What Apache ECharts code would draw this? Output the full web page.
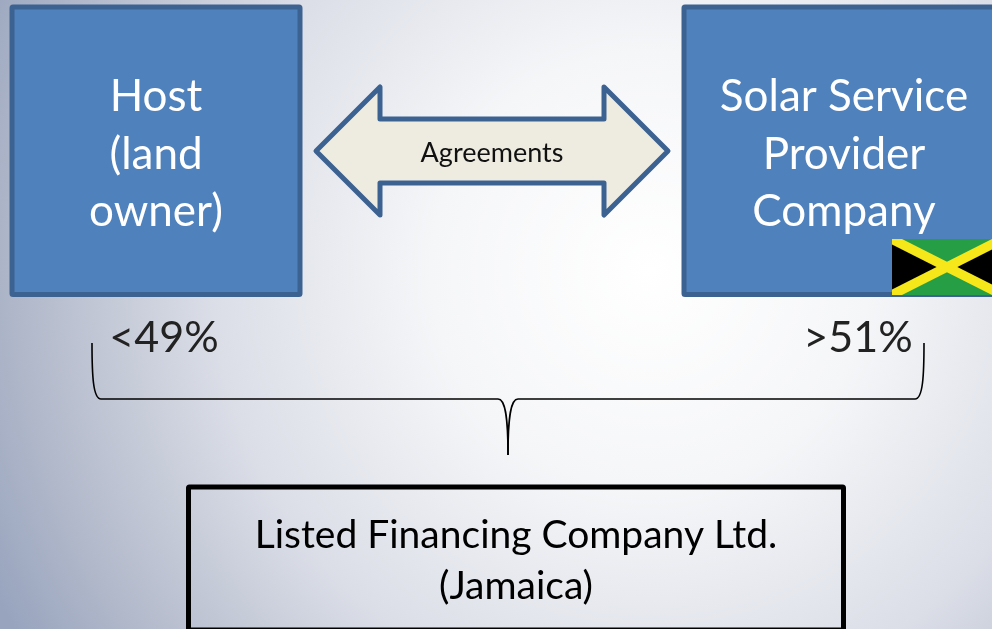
<!DOCTYPE html>
<html lang="en">

<head>
    <meta charset="UTF-8">
    <title>Solar financing structure</title>
    <style>
        html, body { margin: 0; padding: 0; }
    </style>
    <script src="https://cdn.jsdelivr.net/npm/echarts@6/dist/echarts.min.js"></script>
</head>

<body>
    <div id="main" style="width: 992px;height:629px;"></div>
    <script type="text/javascript">
        // texts of the diagram
        const hostLines = ['Host', '(land', 'owner)'];
        const providerLines = ['Solar Service', 'Provider', 'Company'];
        const financeLines = ['Listed Financing Company Ltd.', '(Jamaica)'];
        const shareLabels = ['<49%', '>51%'];
        const arrowLabel = 'Agreements';

        const boxBlue = '#4f81bd';
        const boxEdge = '#3c6291';
        const font = 'Lato, "Open Sans", sans-serif';

        function text(str, x, y, size, color, align) {
            return {
                type: 'text',
                x: x,
                y: y,
                style: {
                    text: str,
                    fill: color,
                    font: size + 'px ' + font,
                    textAlign: align || 'center',
                    textVerticalAlign: 'bottom'
                }
            };
        }

        function lines(list, x, y, step, size, color) {
            return list.map((str, i) => text(str, x, y + i * step, size, color));
        }

        function box(x, y, w, h, fill, edge) {
            return {
                type: 'rect',
                shape: { x: x, y: y, width: w, height: h, r: 1 },
                style: { fill: fill, stroke: edge, lineWidth: 5, lineJoin: 'round' }
            };
        }

        function flag() {
            const x0 = 892, y0 = 239, x1 = 1002, y1 = 295, cx = 947, cy = 267;
            const yellow = '#f5e71a';
            const poly = (pts, c) => ({ type: 'polygon', shape: { points: pts }, style: { fill: c } });
            const dx = 10, dy = 5.5; // how far the yellow band runs along each flag edge
            return {
                type: 'group',
                children: [
                    poly([[x0, y0], [x1, y0], [cx, cy]], '#259e45'),
                    poly([[x0, y1], [x1, y1], [cx, cy]], '#259e45'),
                    poly([[x0, y0], [x0, y1], [cx, cy]], '#000'),
                    poly([[x1, y0], [x1, y1], [cx, cy]], '#000'),
                    poly([[x0, y0], [x0 + dx, y0], [x1, y1 - dy], [x1, y1], [x1 - dx, y1], [x0, y0 + dy]], yellow),
                    poly([[x0, y1], [x0, y1 - dy], [x1 - dx, y0], [x1, y0], [x1, y0 + dy], [x0 + dx, y1]], yellow)
                ]
            };
        }

        // curly brace under the two percentages
        function brace() {
            const style = { fill: 'none', stroke: '#000', lineWidth: 1.6 };
            const curve = (x1, y1, cpx1, cpy1, cpx2, cpy2, x2, y2) => ({
                type: 'bezierCurve',
                shape: { x1, y1, cpx1, cpy1, cpx2, cpy2, x2, y2 },
                style: style
            });
            const flat = (x1, x2) => ({ type: 'line', shape: { x1: x1, y1: 399, x2: x2, y2: 399 }, style: style });
            return [
                curve(92, 343, 92, 375, 93, 399, 101, 399),
                flat(101, 498),
                curve(498, 399, 505, 399, 508, 415, 508, 455),
                curve(508, 455, 508, 415, 511, 399, 518, 399),
                flat(518, 915),
                curve(915, 399, 923, 399, 924, 375, 924, 343)
            ];
        }

        const myChart = echarts.init(document.getElementById('main'), null, { renderer: 'canvas' });

        myChart.setOption({
            backgroundColor: {
                type: 'radial',
                x: 650,
                y: 270,
                r: 730,
                global: true,
                colorStops: [
                    { offset: 0, color: '#ffffff' },
                    { offset: 0.3, color: '#f5f6f8' },
                    { offset: 0.6, color: '#dbdee7' },
                    { offset: 0.85, color: '#b3bacb' },
                    { offset: 1, color: '#98a4be' }
                ]
            },
            graphic: {
                elements: [
                    box(12, 7, 288, 287.5, boxBlue, boxEdge),
                    box(684, 7, 320, 287.5, boxBlue, boxEdge),
                    {
                        type: 'polygon',
                        shape: {
                            points: [[316, 151], [380, 87], [380, 119], [604, 119], [604, 87], [668, 151],
                                [604, 215], [604, 183], [380, 183], [380, 215]]
                        },
                        style: { fill: '#eeece1', stroke: boxEdge, lineWidth: 5, lineJoin: 'round' }
                    },
                    text(arrowLabel, 492, 167, 27, '#111'),
                    ...lines(hostLines, 156, 119, 57.5, 44, '#fff'),
                    ...lines(providerLines, 844, 119, 57.5, 44, '#fff'),
                    flag(),
                    text(shareLabels[0], 164, 360, 43, '#222'),
                    text(shareLabels[1], 858, 360, 43, '#222'),
                    ...brace(),
                    {
                        type: 'rect',
                        shape: { x: 188.5, y: 487, width: 655, height: 143, r: 1 },
                        style: { fill: 'none', stroke: '#000', lineWidth: 5, lineJoin: 'round' }
                    },
                    ...lines(financeLines, 516, 555, 50.5, 39, '#000')
                ]
            }
        });
    </script>
</body>

</html>
